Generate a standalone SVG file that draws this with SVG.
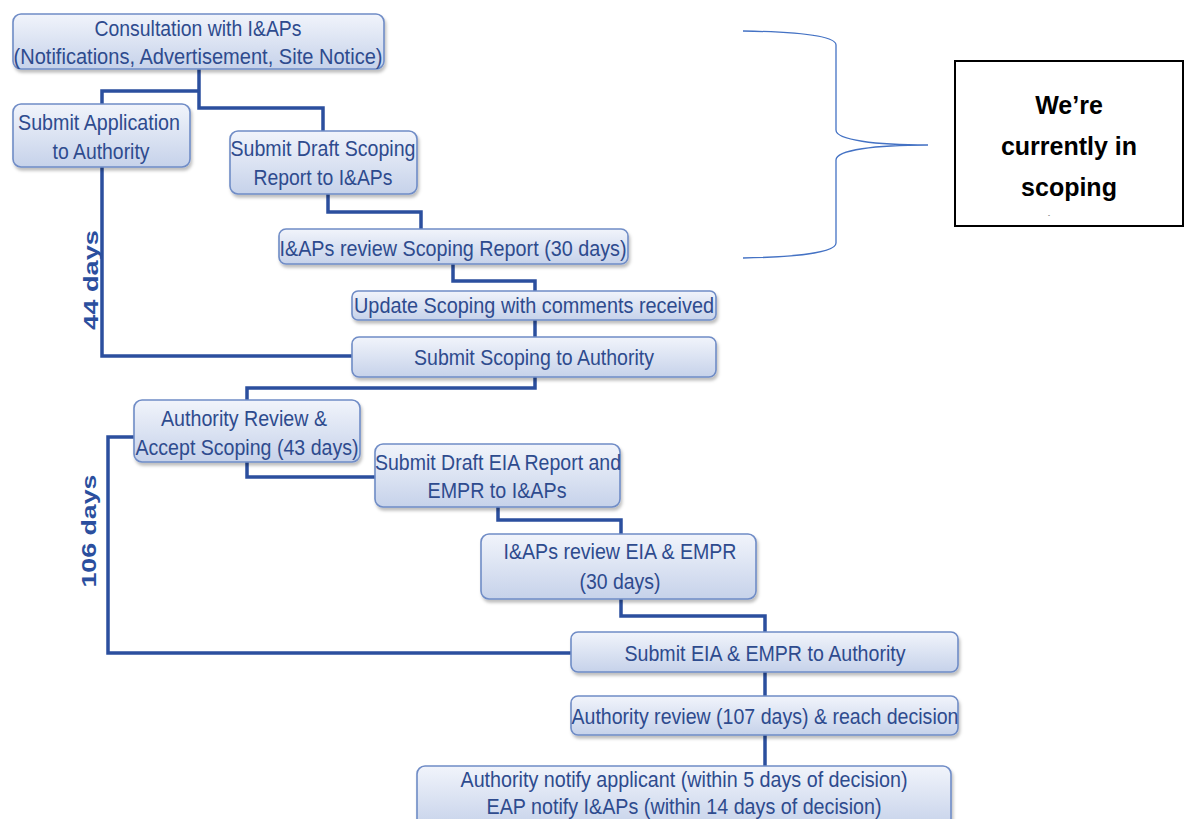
<svg xmlns="http://www.w3.org/2000/svg" width="1187" height="819" viewBox="0 0 1187 819">
<defs>
<linearGradient id="g" x1="0" y1="0" x2="0" y2="1">
<stop offset="0" stop-color="#f1f4fb"/>
<stop offset="1" stop-color="#c6d2ea"/>
</linearGradient>
<filter id="sh" x="-10%" y="-20%" width="120%" height="150%">
<feDropShadow dx="1.5" dy="3" stdDeviation="1.5" flood-color="#000" flood-opacity="0.25"/>
</filter>
</defs>
<style>
.n{fill:url(#g);stroke:#6f8cc6;stroke-width:1.6;filter:url(#sh)}
.t{font-family:"Liberation Sans",Arial,sans-serif;font-size:21.5px;fill:#2e4b8e;text-anchor:middle}
.c{fill:none;stroke:#2b4f9e;stroke-width:3.5}
.d{font-family:"Liberation Sans",Arial,sans-serif;font-size:21px;font-weight:bold;fill:#2b4f9e;text-anchor:middle}
.b{font-family:"Liberation Sans",Arial,sans-serif;font-size:25px;font-weight:bold;fill:#000;text-anchor:middle}
</style>
<rect width="1187" height="819" fill="#fff"/>
<g id="connectors">
<path class="c" d="M102,104 V91 H199"/>
<path class="c" d="M199,69 V108 H323 V131"/>
<path class="c" d="M102,167 V356 H352"/>
<path class="c" d="M328,194 V212 H421 V229"/>
<path class="c" d="M453,264 V281 H535 V291"/>
<path class="c" d="M535,320 V337"/>
<path class="c" d="M535,377 V388 H247 V400"/>
<path class="c" d="M247,462 V477 H375"/>
<path class="c" d="M498,507 V520 H621 V534"/>
<path class="c" d="M621,599 V616 H765 V632"/>
<path class="c" d="M134,437 H108 V653 H571"/>
<path class="c" d="M765,672 V696"/>
<path class="c" d="M765,735 V766"/>
</g>
<g id="label44"><text class="d" transform="translate(98,280) rotate(-90)" textLength="100" lengthAdjust="spacingAndGlyphs">44 days</text></g>
<g id="label106"><text class="d" transform="translate(96,531) rotate(-90)" textLength="113" lengthAdjust="spacingAndGlyphs">106 days</text></g>
<g id="n1"><rect class="n" x="13" y="14" width="371" height="55" rx="8"/>
<text class="t" x="198" y="36" textLength="207" lengthAdjust="spacingAndGlyphs">Consultation with I&amp;APs</text>
<text class="t" x="198" y="64" textLength="369" lengthAdjust="spacingAndGlyphs">(Notifications, Advertisement, Site Notice)</text></g>
<g id="n2"><rect class="n" x="13" y="104" width="177" height="63" rx="8"/>
<text class="t" x="99" y="130" textLength="162" lengthAdjust="spacingAndGlyphs">Submit Application</text>
<text class="t" x="101" y="159" textLength="97" lengthAdjust="spacingAndGlyphs">to Authority</text></g>
<g id="n3"><rect class="n" x="230" y="131" width="187" height="63" rx="8"/>
<text class="t" x="323" y="156" textLength="185" lengthAdjust="spacingAndGlyphs">Submit Draft Scoping</text>
<text class="t" x="323" y="185" textLength="139" lengthAdjust="spacingAndGlyphs">Report to I&amp;APs</text></g>
<g id="n4"><rect class="n" x="279" y="229" width="349" height="35" rx="7"/>
<text class="t" x="453" y="256" textLength="347" lengthAdjust="spacingAndGlyphs">I&amp;APs review Scoping Report  (30 days)</text></g>
<g id="n5"><rect class="n" x="352" y="291" width="364" height="29" rx="6"/>
<text class="t" x="534" y="313" textLength="360" lengthAdjust="spacingAndGlyphs">Update Scoping with comments received</text></g>
<g id="n6"><rect class="n" x="352" y="337" width="364" height="40" rx="7"/>
<text class="t" x="534" y="365" textLength="240" lengthAdjust="spacingAndGlyphs">Submit Scoping to Authority</text></g>
<g id="n7"><rect class="n" x="134" y="400" width="226" height="62" rx="8"/>
<text class="t" x="244" y="426" textLength="166" lengthAdjust="spacingAndGlyphs">Authority Review &amp;</text>
<text class="t" x="247" y="455" textLength="223" lengthAdjust="spacingAndGlyphs">Accept Scoping (43 days)</text></g>
<g id="n8"><rect class="n" x="375" y="444" width="245" height="63" rx="8"/>
<text class="t" x="498" y="470" textLength="246" lengthAdjust="spacingAndGlyphs">Submit Draft EIA Report and</text>
<text class="t" x="497" y="498" textLength="139" lengthAdjust="spacingAndGlyphs">EMPR to I&amp;APs</text></g>
<g id="n9"><rect class="n" x="481" y="534" width="275" height="65" rx="8"/>
<text class="t" x="620" y="559" textLength="233" lengthAdjust="spacingAndGlyphs">I&amp;APs review EIA &amp; EMPR</text>
<text class="t" x="620" y="589" textLength="81" lengthAdjust="spacingAndGlyphs">(30 days)</text></g>
<g id="n10"><rect class="n" x="571" y="632" width="387" height="40" rx="7"/>
<text class="t" x="765" y="661" textLength="281" lengthAdjust="spacingAndGlyphs">Submit EIA &amp; EMPR to Authority</text></g>
<g id="n11"><rect class="n" x="571" y="696" width="387" height="39" rx="7"/>
<text class="t" x="765" y="724" textLength="387" lengthAdjust="spacingAndGlyphs">Authority review (107 days) &amp; reach decision</text></g>
<g id="n12"><rect class="n" x="417" y="766" width="534" height="62" rx="8"/>
<text class="t" x="684" y="787" textLength="447" lengthAdjust="spacingAndGlyphs">Authority notify applicant (within 5 days of decision)</text>
<text class="t" x="684" y="814" textLength="395" lengthAdjust="spacingAndGlyphs">EAP notify I&amp;APs (within 14 days of decision)</text></g>
<g id="brace"><path d="M743,31 C800,32 836,36 836,45 V130 C836,140 875,145 928,145 C875,145 836,150 836,160 V243 C836,252 800,257 743,258" fill="none" stroke="#4472c4" stroke-width="1.3"/></g>
<g id="note"><rect x="955" y="61" width="228" height="165" fill="#fff" stroke="#000" stroke-width="2"/>
<text class="b" x="1069" y="114">We’re</text>
<text class="b" x="1069" y="155">currently in</text>
<text class="b" x="1069" y="196">scoping</text>
<text x="1048" y="217" font-family="Liberation Sans,Arial,sans-serif" font-size="6" fill="#000">-</text></g>
</svg>
